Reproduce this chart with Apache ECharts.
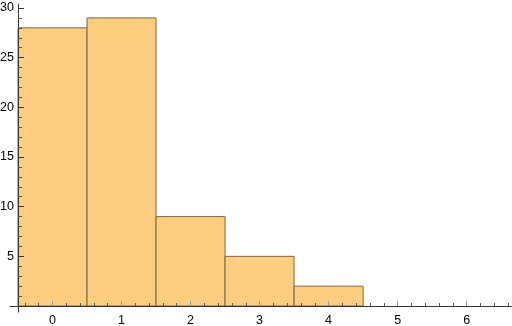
<!DOCTYPE html>
<html>
<head>
<meta charset="utf-8">
<script src="https://cdn.jsdelivr.net/npm/echarts@6/dist/echarts.min.js"></script>
<style>html,body{margin:0;padding:0;background:#fff}#c{width:512px;height:326px}</style>
</head>
<body>
<div id="c"></div>
<script>
// Histogram bins: [left edge, right edge]
const binStarts = [-0.5, 0.5, 1.5, 2.5, 3.5];
const binEnds = [0.5, 1.5, 2.5, 3.5, 4.5];
const counts = [28, 29, 9, 5, 2];
const xTickLabels = [0, 1, 2, 3, 4, 5, 6];
const yTickLabels = [5, 10, 15, 20, 25, 30];

const xMin = -0.5, xMax = 6.65, yMin = 0, yMax = 30.4;
const xMinor = [];
for (let i = -2; i <= 33; i++) { const v = Math.round(i * 2) / 10; if (Math.abs(v - Math.round(v)) > 1e-9) xMinor.push(v); }
const yMinor = [];
for (let v = 1; v <= 30; v++) if (v % 5 !== 0) yMinor.push(v);

const data = binStarts.map((s, i) => [s, binEnds[i], counts[i]]);
const axisColor = '#333';
const lbl = {color: '#000', fontSize: 12.5, fontFamily: 'Liberation Sans'};
const chart = echarts.init(document.getElementById('c'), null, {renderer: 'canvas'});
chart.setOption({
  animation: false,
  grid: {left: 18, right: 0.5, top: 4, bottom: 20, containLabel: false, outerBoundsMode: 'none'},
  xAxis: [{
    type: 'value', min: xMin, max: xMax, position: 'bottom', z: 10,
    splitLine: {show: false},
    axisLine: {show: true, onZero: false, lineStyle: {color: axisColor, width: 1}},
    axisTick: {show: true, inside: true, length: 5, customValues: xTickLabels, lineStyle: {color: '#999'}},
    axisLabel: Object.assign({show: true, customValues: xTickLabels, margin: 8}, lbl)
  }, {
    type: 'value', min: xMin, max: xMax, position: 'bottom', z: 10,
    splitLine: {show: false},
    axisLine: {show: false, onZero: false},
    axisTick: {show: true, inside: true, length: 3, customValues: xMinor, lineStyle: {color: '#555'}},
    axisLabel: {show: false}
  }],
  yAxis: [{
    type: 'value', min: yMin, max: yMax, position: 'left', z: 10,
    splitLine: {show: false},
    axisLine: {show: true, onZero: false, lineStyle: {color: axisColor, width: 1}},
    axisTick: {show: true, inside: true, length: 6, customValues: yTickLabels, lineStyle: {color: '#333'}},
    axisLabel: Object.assign({show: true, customValues: yTickLabels, margin: 4}, lbl)
  }, {
    type: 'value', min: yMin, max: yMax, position: 'left', offset: 0, z: 10,
    splitLine: {show: false},
    axisLine: {show: false, onZero: false},
    axisTick: {show: true, inside: true, length: 4, customValues: yMinor, lineStyle: {color: '#555'}},
    axisLabel: {show: false}
  }],
  series: [{
    type: 'custom',
    data: data,
    renderItem: function (params, api) {
      const p0 = api.coord([api.value(0), 0]);
      const p1 = api.coord([api.value(1), api.value(2)]);
      return {
        type: 'rect',
        shape: {x: p0[0], y: p1[1], width: p1[0] - p0[0], height: p0[1] - p1[1]},
        style: {fill: '#FDCE80', stroke: '#7d6645', lineWidth: 1}
      };
    }
  }]
});
// Mathematica-style axis crossing: small extensions of both axes past the origin
const o = chart.convertToPixel({gridIndex: 0}, [xMin, yMin]);
const ox = Math.round(o[0]) + 0.5, oy = Math.round(o[1]) + 0.5;
chart.setOption({
  graphic: [
    {type: 'line', z: 20, shape: {x1: ox - 9, y1: oy, x2: ox, y2: oy}, style: {stroke: axisColor, lineWidth: 1}},
    {type: 'line', z: 20, shape: {x1: ox, y1: oy, x2: ox, y2: oy + 6}, style: {stroke: axisColor, lineWidth: 1}}
  ]
});
</script>
</body>
</html>
